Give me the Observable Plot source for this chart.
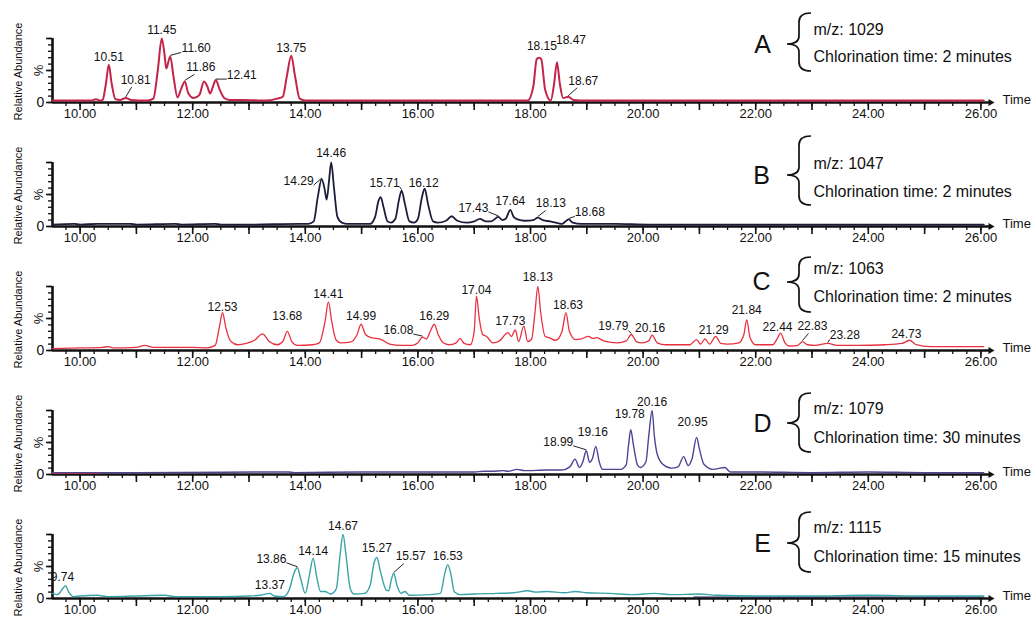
<!DOCTYPE html>
<html><head><meta charset="utf-8">
<script src="https://cdn.jsdelivr.net/npm/d3@7"></script>
<script src="https://cdn.jsdelivr.net/npm/@observablehq/plot@0.6"></script>
<style>
html,body{margin:0;padding:0;background:#fff;}
#chart svg{display:block;}
</style></head><body><div id="chart"></div>
<script>
// ---------------- DATA ----------------
const panelIds = ["A", "B", "C", "D", "E"];
const mzValues = [1029, 1047, 1063, 1079, 1115];
const chlorinationMinutes = [2, 2, 2, 30, 15];
const xTickLabels = [10, 12, 14, 16, 18, 20, 22, 24, 26];

// traces: [retention time (min), relative abundance (%)]
const traceA = [[9.51,3],[10.2,3],[10.28,5],[10.36,3],[10.40,4],[10.46,30],[10.51,59],[10.56,30],[10.63,5],[10.72,4],[10.81,7],[10.9,4],[11.2,3],[11.30,6],[11.38,50],[11.45,100],[11.50,75],[11.53,53],[11.60,72],[11.66,40],[11.73,8],[11.79,20],[11.86,33],[11.92,15],[12.02,7],[12.12,12],[12.20,33],[12.26,25],[12.31,14],[12.36,25],[12.41,35],[12.48,20],[12.56,7],[12.65,4],[12.9,4],[13.3,3],[13.5,6],[13.60,9],[13.67,40],[13.75,73],[13.82,40],[13.90,6],[14.0,3],[15.0,3],[16.5,3],[17.95,3],[18.05,25],[18.11,68],[18.15,70],[18.19,68],[18.26,20],[18.36,3],[18.42,30],[18.47,63],[18.52,30],[18.58,7],[18.67,9],[18.76,4],[19.0,3],[26.05,3]];
const traceB = [[9.51,3],[9.9,4],[10.0,3],[10.3,4],[10.9,4],[11.0,3],[11.7,4],[11.8,3],[12.4,4],[12.5,3],[13.0,3],[13.9,4],[14.05,4],[14.15,8],[14.22,45],[14.29,74],[14.34,60],[14.38,42],[14.42,70],[14.46,100],[14.51,60],[14.57,15],[14.65,6],[14.75,4],[15.15,4],[15.24,15],[15.30,40],[15.34,46],[15.39,30],[15.46,8],[15.52,6],[15.60,12],[15.66,40],[15.71,56],[15.77,35],[15.85,8],[15.93,6],[16.0,12],[16.07,45],[16.12,59],[16.18,35],[16.27,8],[16.35,6],[16.5,9],[16.6,16],[16.7,9],[16.87,6],[17.0,8],[17.1,12],[17.2,8],[17.3,8],[17.43,15],[17.5,10],[17.56,12],[17.64,26],[17.7,15],[17.77,11],[17.9,9],[18.05,10],[18.13,14],[18.22,10],[18.35,8],[18.5,5],[18.56,4],[18.62,8],[18.68,11],[18.75,6],[18.9,4],[19.5,4],[20.1,3],[26.05,3]];
const traceC = [[9.51,3],[10.0,4],[10.4,5],[10.5,6],[10.6,4],[11.0,5],[11.15,8],[11.3,5],[11.8,5],[12.0,5],[12.25,4],[12.4,8],[12.47,35],[12.53,59],[12.59,35],[12.68,14],[12.8,9],[12.95,11],[13.1,16],[13.24,26],[13.36,14],[13.5,9],[13.6,14],[13.68,30],[13.76,14],[13.86,8],[14.13,9],[14.25,12],[14.35,45],[14.41,76],[14.47,45],[14.55,16],[14.63,12],[14.8,13],[14.92,25],[14.99,41],[15.07,25],[15.17,20],[15.25,19],[15.35,17],[15.5,10],[15.7,8],[15.9,8],[16.0,12],[16.08,21],[16.15,18],[16.22,30],[16.29,41],[16.36,25],[16.45,12],[16.55,9],[16.68,12],[16.75,19],[16.82,11],[16.93,9],[17.0,30],[17.04,85],[17.09,50],[17.15,25],[17.22,22],[17.33,12],[17.45,15],[17.55,25],[17.6,28],[17.66,22],[17.73,32],[17.79,14],[17.88,38],[17.95,14],[18.02,18],[18.08,60],[18.13,100],[18.18,60],[18.26,22],[18.33,20],[18.45,16],[18.56,30],[18.63,59],[18.69,30],[18.8,17],[18.9,18],[19.03,22],[19.1,19],[19.18,20],[19.3,15],[19.55,12],[19.7,15],[19.79,25],[19.88,14],[19.98,12],[20.1,15],[20.16,24],[20.25,12],[20.4,9],[20.83,9],[20.95,17],[21.02,10],[21.1,18],[21.18,10],[21.29,22],[21.38,11],[21.5,10],[21.7,12],[21.79,25],[21.84,48],[21.9,20],[22.0,9],[22.3,9],[22.38,18],[22.44,27],[22.52,12],[22.6,7],[22.75,8],[22.83,14],[22.92,9],[23.05,8],[23.28,11],[23.45,8],[23.8,8],[24.3,9],[24.6,11],[24.73,16],[24.85,9],[25.1,6],[26.05,6]];
const traceD = [[9.51,3],[11,3],[13.7,4],[13.8,3],[15.0,4],[16.0,4],[17.0,4],[17.17,5],[17.3,5],[17.52,6],[17.6,5],[17.76,8],[17.9,6],[18.3,7],[18.55,7],[18.7,12],[18.79,24],[18.87,11],[18.93,20],[18.99,37],[19.05,19],[19.10,25],[19.16,44],[19.22,20],[19.28,8],[19.6,8],[19.7,15],[19.74,45],[19.78,70],[19.83,45],[19.9,15],[19.95,11],[20.05,20],[20.1,60],[20.16,100],[20.2,60],[20.25,32],[20.35,16],[20.5,10],[20.62,12],[20.72,28],[20.8,14],[20.87,25],[20.95,58],[21.0,40],[21.08,16],[21.24,8],[21.45,11],[21.55,4],[22.0,4],[23.0,3],[24,4],[25,3],[26.05,3]];
const traceE = [[9.51,8],[9.6,6],[9.68,14],[9.74,20],[9.8,10],[9.88,3],[10.0,4],[10.3,5],[10.5,3],[11.0,4],[11.5,5],[11.7,3],[12.5,3],[13.0,4],[13.2,5],[13.37,8],[13.45,4],[13.61,3],[13.72,15],[13.80,40],[13.86,48],[13.92,30],[14.0,8],[14.07,35],[14.14,63],[14.2,35],[14.27,11],[14.35,11],[14.45,7],[14.55,15],[14.62,70],[14.67,100],[14.72,70],[14.8,15],[14.87,7],[15.05,8],[15.15,20],[15.22,55],[15.27,64],[15.34,40],[15.44,13],[15.48,12],[15.53,30],[15.57,39],[15.63,20],[15.7,8],[15.77,11],[15.85,5],[16.2,6],[16.4,8],[16.48,40],[16.53,53],[16.58,40],[16.65,10],[16.75,6],[17.0,7],[17.4,8],[17.7,9],[17.95,12],[18.1,10],[18.3,11],[18.6,9],[18.8,11],[19.0,9],[19.4,8],[19.83,6],[20.2,8],[20.5,6],[21.0,7],[21.3,5],[22.0,4],[23.0,4],[24.0,5],[25.0,4],[26.05,4]];

// faint overlaid baselines of other runs visible in D and E
const overlayD = [[9.51,2],[10.37,2]];
const overlayE = [[20.9,2],[26.05,2]];

// labelled peaks: [retention time, abundance]
const peaksA = [[10.51,59],[10.81,7],[11.45,100],[11.60,72],[11.86,33],[12.41,35],[13.75,73],[18.15,70],[18.47,63],[18.67,9]];
const peaksB = [[14.29,74],[14.46,100],[15.71,56],[16.12,59],[17.43,15],[17.64,26],[18.13,14],[18.68,11]];
const peaksC = [[12.53,59],[13.68,30],[14.41,76],[14.99,41],[16.08,21],[16.29,41],[17.04,85],[17.73,32],[18.13,100],[18.63,59],[19.79,25],[20.16,24],[21.29,22],[21.84,48],[22.44,27],[22.83,14],[23.28,11],[24.73,16]];
const peaksD = [[18.99,37],[19.16,44],[19.78,70],[20.16,100],[20.95,58]];
const peaksE = [[9.74,20],[13.37,8],[13.86,48],[14.14,63],[14.67,100],[15.27,64],[15.57,39],[16.53,53]];

// ---------------- LAYOUT / STYLE ----------------
const W = 1031, H = 124, ML = 52, MR = 41, MT = 38, MB = 22;
const X0 = 9.51, X1 = 26.17;
const pxPerMin = (W - ML - MR) / (X1 - X0);
const pxPerPct = (H - MT - MB) / 100;
const FONT = "'Liberation Sans', Arial, Helvetica, sans-serif";

const traces = [traceA, traceB, traceC, traceD, traceE];
const peaks = [peaksA, peaksB, peaksC, peaksD, peaksE];
const overlays = [null, null, null, {pts: overlayD, color: "#e0303a"}, {pts: overlayE, color: "#1f2244"}];
const colors = ["#c4234a", "#1c1d3a", "#e8313f", "#4d4592", "#38a3a8"];
const lineWidths = [2, 1.8, 1.3, 1.4, 1.4];

// label nudges in pixels [dx, dy, leader]
const labelNudges = {
  "A:10.81": [10, -18, "u"], "A:11.60": [26, -8, "s"], "A:11.86": [16, -14, "u"], "A:12.41": [26, -5, "s"],
  "A:18.15": [3, -12], "A:18.47": [14, -22], "A:18.67": [15, -16, "u"],
  "B:14.29": [-23, 2, "s"], "B:14.46": [0, -9], "B:15.71": [-17, -8, "s"], "B:16.12": [-1, -6],
  "B:17.43": [-25, -9, "s"], "B:17.64": [0, -9], "B:18.13": [13, -14, "u"], "B:18.68": [21, -7, "s"],
  "C:12.53": [0, -6], "C:13.68": [0, -15], "C:16.08": [-24, -7, "s"], "C:17.04": [0, -6], "C:17.73": [-5, -9],
  "C:18.13": [0, -9], "C:18.63": [2, -8], "C:19.79": [-18, -8, "s"], "C:20.16": [-2, -7], "C:21.29": [-2, -6],
  "C:21.84": [0, -10], "C:22.44": [-3, -6], "C:22.83": [10, -15, "u"], "C:23.28": [17, -8, "s"], "C:24.73": [-3, -6],
  "D:18.99": [-28, -9, "s"], "D:19.16": [-3, -14], "D:19.78": [-1, -16], "D:20.95": [-4, -15],
  "E:9.74": [-3, -9], "E:13.86": [-26, -9, "s"], "E:14.14": [0, -7], "E:15.27": [0, -9], "E:15.57": [17, -17, "u"]
};

// annotation layout (local px in each panel)
const annotationLayout = [
  {letter: [762, 44], brace: [13, 44, 71], mz: 29, chl: 56},
  {letter: [761, 51], brace: [12, 51, 81], mz: 39, chl: 67},
  {letter: [761, 33], brace: [9, 34, 64], mz: 20, chl: 48},
  {letter: [762, 51], brace: [21, 51, 80], mz: 36, chl: 65},
  {letter: [762, 47], brace: [16, 47, 76], mz: 31, chl: 60}
];

function makePanel(i) {
  const id = panelIds[i];
  const pts = traces[i].map(([t, v]) => ({t, v}));
  const lab = peaks[i].map(([t, v]) => {
    const [dx, dy, lead] = labelNudges[id + ":" + t.toFixed(2)] || [0, -8, ""];
    return {t, v, text: t.toFixed(2), lx: t + dx / pxPerMin, ly: v - dy / pxPerPct, dx, dy, lead};
  });
  const leaders = lab.filter(d => d.lead).map(d => {
    let ex, ey;
    if (d.lead === "u") { ex = d.dx * 0.6; ey = d.dy + 7; }
    else { ex = d.dx - Math.sign(d.dx) * 15; ey = d.dy + 4; }
    return {x1: d.t, y1: d.v + 1 / pxPerPct, x2: d.t + ex / pxPerMin, y2: d.v - ey / pxPerPct};
  });
  const ann = annotationLayout[i];
  const brace = () => {
    const [top, tip, bot] = ann.brace;
    const xe = 811, xv = 799, xt = 787;
    const d = `M${xe},${top} Q${xv},${top} ${xv},${top + 9} L${xv},${tip - 8} Q${xv},${tip} ${xt},${tip} ` +
              `Q${xv},${tip} ${xv},${tip + 8} L${xv},${bot - 9} Q${xv},${bot} ${xe},${bot}`;
    return d3.create("svg:path").attr("d", d).attr("fill", "none").attr("stroke", "#111")
      .attr("stroke-width", 1.7).node();
  };
  const marks = [
    Plot.ruleY([0], {stroke: "#111", strokeWidth: 2.6}),
    Plot.ruleX([X0], {stroke: "#111", strokeWidth: 2.6}),
    Plot.dot([X1], {x: d => d, y: 0, symbol: "triangle", rotate: 90, r: 2.6, fill: "#111", stroke: "none"}),
    Plot.axisX(d3.range(9.75, 26.1, 0.25), {tickSize: 4, tickFormat: () => "", strokeWidth: 1.3}),
    Plot.axisX(d3.range(10, 27, 1), {tickSize: 8, tickFormat: () => "", strokeWidth: 1.6}),
    Plot.axisX(xTickLabels, {tickSize: 0, tickPadding: 6, tickFormat: d => d.toFixed(2), fontSize: 13}),
    Plot.axisY(d3.range(0, 101, 10), {tickSize: 4, tickFormat: () => "", strokeWidth: 1.3}),
    Plot.axisY([0, 50, 100], {tickSize: 6, tickFormat: () => "", strokeWidth: 1.6}),
    Plot.text(["0"], {frameAnchor: "bottom-left", dx: -12, fontSize: 14, textAnchor: "middle", lineAnchor: "middle"}),
    Plot.text(["%"], {frameAnchor: "left", dx: -14, rotate: -90, fontSize: 13, textAnchor: "middle", lineAnchor: "middle"}),
    Plot.text(["Relative Abundance"], {frameAnchor: "left", dx: -34, dy: 1, rotate: -90, fontSize: 11, textAnchor: "middle", lineAnchor: "middle"}),
    Plot.text(["Time"], {frameAnchor: "bottom-right", dx: 12, dy: -3, textAnchor: "start", lineAnchor: "middle", fontSize: 13})
  ];
  if (overlays[i]) {
    marks.push(Plot.line(overlays[i].pts.map(([t, v]) => ({t, v})), {x: "t", y: "v", stroke: overlays[i].color, strokeWidth: 1.3}));
  }
  marks.push(
    Plot.line(pts, {x: "t", y: "v", stroke: colors[i], strokeWidth: lineWidths[i], curve: "monotone-x", strokeLinejoin: "round"}),
    Plot.link(leaders, {x1: "x1", y1: "y1", x2: "x2", y2: "y2", stroke: "#222", strokeWidth: 1}),
    Plot.text(lab, {x: "lx", y: "ly", text: "text", fontSize: 12, fill: "#111"}),
    Plot.text([id], {frameAnchor: "top-left", dx: ann.letter[0] - ML, dy: ann.letter[1] - MT, fontSize: 25, textAnchor: "middle", lineAnchor: "middle"}),
    Plot.text([`m/z: ${mzValues[i]}`], {frameAnchor: "top-left", dx: 813 - ML, dy: ann.mz - MT, fontSize: 16, textAnchor: "start", lineAnchor: "middle"}),
    Plot.text([`Chlorination time: ${chlorinationMinutes[i]} minutes`], {frameAnchor: "top-left", dx: 813 - ML, dy: ann.chl - MT, fontSize: 16, textAnchor: "start", lineAnchor: "middle"}),
    brace
  );
  return Plot.plot({
    width: W, height: H,
    marginLeft: ML, marginRight: MR, marginTop: MT, marginBottom: MB,
    x: {domain: [X0, X1], label: null},
    y: {domain: [0, 100], label: null},
    style: {fontFamily: FONT, fontSize: "12px", background: "white", color: "#111", overflow: "visible"},
    marks
  });
}

const host = document.getElementById("chart");
panelIds.forEach((_, i) => host.appendChild(makePanel(i)));
</script></body></html>
